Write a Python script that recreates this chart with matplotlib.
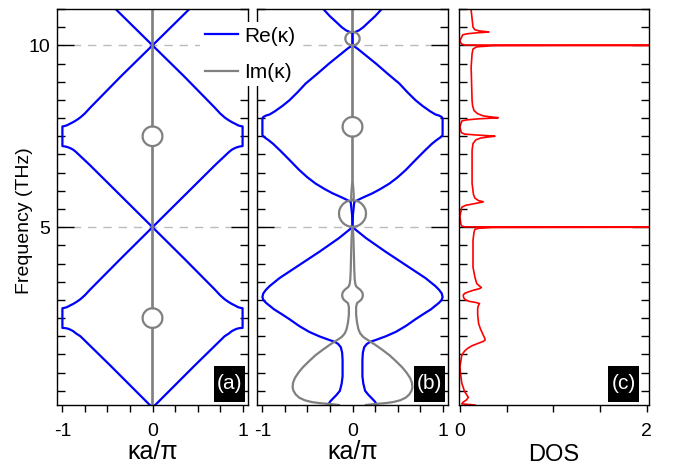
import numpy as np
import matplotlib.pyplot as plt
from matplotlib.ticker import MultipleLocator, FixedLocator
from matplotlib.lines import Line2D
from matplotlib.patches import Rectangle

plt.rcParams['font.family'] = ['Liberation Sans', 'DejaVu Sans']

# panel (a) - Re(k) for k >= 0 (other half is the mirror image)
re_a_k = [0.03, 0.47, 0.80, 0.85, 0.88, 0.91, 0.94, 0.97, 1.0,
          1.0, 0.98, 0.95, 0.92, 0.88, 0.84, 0.80, 0.75, 0.69, 0.35, 0.0,
          0.35, 0.70, 0.85, 0.88, 0.91, 0.94, 0.97, 1.0,
          1.0, 0.98, 0.95, 0.92, 0.88, 0.84, 0.80, 0.75, 0.69, 0.35, 0.0, 0.41]
re_a_f = [0.11, 1.20, 2.00, 2.08, 2.14, 2.18, 2.21, 2.225, 2.23,
          2.77, 2.78, 2.80, 2.84, 2.89, 2.95, 3.02, 3.13, 3.29, 4.14, 5.0,
          5.86, 6.72, 7.07, 7.13, 7.17, 7.20, 7.22, 7.23,
          7.77, 7.78, 7.80, 7.84, 7.89, 7.95, 8.02, 8.13, 8.29, 9.15, 10.0, 11.0]

# panel (a) - Im(k), loops in the two gaps
im_a_k = [0.0, 0.0, 0.022, 0.043, 0.062, 0.078, 0.096, 0.107, 0.11, 0.107, 0.096, 0.078,
          0.062, 0.043, 0.022, 0.0,
          0.0, 0.022, 0.043, 0.062, 0.078, 0.096, 0.107, 0.11, 0.107, 0.096, 0.078,
          0.062, 0.043, 0.022, 0.0, 0.0]
im_a_f = [0.11, 2.23, 2.235, 2.252, 2.276, 2.311, 2.365, 2.43, 2.50, 2.57, 2.635, 2.689,
          2.724, 2.748, 2.765, 2.77,
          7.23, 7.235, 7.252, 7.276, 7.311, 7.365, 7.43, 7.50, 7.57, 7.635, 7.689,
          7.724, 7.748, 7.765, 7.77, 11.0]

# panel (b) - Re(k)
re_b_k = [0.27, 0.25, 0.22, 0.18, 0.14, 0.12, 0.11, 0.11, 0.115, 0.13, 0.16, 0.20, 0.26,
          0.37, 0.48, 0.59, 0.70, 0.78, 0.87, 0.92, 0.96, 0.99, 1.0, 0.99, 0.96, 0.92, 0.88,
          0.81, 0.70, 0.59, 0.37, 0.15, 0.0,
          0.005, 0.02, 0.04, 0.07, 0.12, 0.22, 0.31, 0.41, 0.50, 0.59, 0.70, 0.80, 0.88,
          0.93, 0.97, 0.99, 1.0,
          1.0, 0.99, 0.96, 0.92, 0.86, 0.78, 0.70, 0.61, 0.52, 0.39, 0.26, 0.13, 0.05, 0.0,
          0.0, 0.03, 0.07, 0.12, 0.18, 0.25, 0.31, 0.325]
re_b_f = [0.11, 0.20, 0.28, 0.38, 0.50, 0.70, 0.90, 1.35, 1.55, 1.70, 1.79, 1.85, 1.90,
          2.00, 2.12, 2.28, 2.47, 2.60, 2.74, 2.84, 2.92, 3.00, 3.08, 3.18, 3.28, 3.38, 3.46,
          3.60, 3.78, 3.96, 4.32, 4.70, 5.0,
          5.35, 5.70, 5.72, 5.76, 5.82, 5.93, 6.05, 6.20, 6.37, 6.57, 6.85, 7.10, 7.29,
          7.39, 7.46, 7.50, 7.53,
          7.99, 8.03, 8.07, 8.10, 8.19, 8.33, 8.49, 8.71, 8.95, 9.22, 9.50, 9.76, 9.92, 10.0,
          10.35, 10.37, 10.41, 10.50, 10.64, 10.80, 10.96, 11.0]

# panel (b) - Im(k)
im_b_k = [0.15, 0.26, 0.36, 0.45, 0.53, 0.59, 0.63, 0.655, 0.665, 0.66, 0.64, 0.60, 0.55,
          0.48, 0.41, 0.33, 0.25, 0.18, 0.12, 0.085, 0.065, 0.05, 0.04, 0.04, 0.05, 0.07,
          0.095, 0.11, 0.115, 0.11, 0.09, 0.065, 0.045, 0.033, 0.025, 0.02, 0.015, 0.01,
          0.005, 0.0,
          0.03, 0.059, 0.084, 0.107, 0.13, 0.146, 0.15, 0.146, 0.13, 0.107, 0.084, 0.059,
          0.03, 0.0,
          0.015, 0.012, 0.006, 0.0, 0.0,
          0.022, 0.043, 0.062, 0.078, 0.096, 0.107, 0.11, 0.107, 0.096, 0.078, 0.062, 0.043,
          0.022, 0.0, 0.0,
          0.016, 0.031, 0.045, 0.057, 0.069, 0.077, 0.08, 0.077, 0.069, 0.057, 0.045, 0.031,
          0.016, 0.0, 0.0]
im_b_f = [0.11, 0.14, 0.16, 0.19, 0.24, 0.31, 0.40, 0.50, 0.60, 0.72, 0.85, 1.00, 1.15,
          1.32, 1.48, 1.63, 1.77, 1.88, 1.98, 2.08, 2.20, 2.38, 2.60, 2.80, 2.91, 2.95,
          3.00, 3.06, 3.13, 3.20, 3.27, 3.32, 3.36, 3.42, 3.55, 3.80, 4.30, 4.70,
          4.95, 5.01,
          5.017, 5.039, 5.072, 5.119, 5.192, 5.28, 5.375, 5.47, 5.558, 5.631, 5.678, 5.711,
          5.733, 5.74,
          5.80, 5.95, 6.15, 6.30, 7.49,
          7.495, 7.512, 7.536, 7.571, 7.625, 7.69, 7.76, 7.83, 7.895, 7.949, 7.984, 8.008,
          8.025, 8.03, 10.0,
          10.004, 10.015, 10.031, 10.055, 10.092, 10.137, 10.185, 10.233, 10.278, 10.315,
          10.339, 10.355, 10.366, 10.37, 11.0]

# panel (c) - density of states
dos_f = [0.11, 0.14, 0.18, 0.25, 0.32, 0.40, 0.48, 0.71, 1.00, 1.16, 1.48, 1.56, 1.62,
         1.68, 1.74, 1.80, 1.86, 1.90, 1.95, 2.03, 2.20, 2.35, 2.60, 2.77, 2.86, 2.90,
         2.93, 2.96, 3.00, 3.06, 3.13, 3.18, 3.22, 3.27, 3.31, 3.34, 3.38, 3.45, 3.63, 3.90,
         4.37, 4.64, 4.85, 4.94, 4.97, 4.99, 5.0, 5.01, 5.03, 5.08, 5.30, 5.55, 5.60, 5.65,
         5.69, 5.70, 5.73, 5.80, 5.90, 6.20, 7.12, 7.30, 7.40, 7.45, 7.48, 7.50, 7.515,
         7.54, 7.56, 7.60, 7.76, 7.92, 7.95, 7.98, 8.00, 8.01, 8.03, 8.06, 8.12, 8.21, 8.35,
         8.49, 9.40, 9.77, 9.90, 9.96, 9.99, 10.0, 10.01, 10.04, 10.13, 10.29, 10.32, 10.345,
         10.36, 10.37, 10.38, 10.40, 10.43, 10.50, 10.97, 11.0]
dos_v = [0.16, 0.02, 0.03, 0.07, 0.09, 0.07, 0.05, 0.02, 0.005, 0.0, 0.02, 0.04, 0.06,
         0.09, 0.13, 0.19, 0.25, 0.27, 0.265, 0.25, 0.22, 0.20, 0.19, 0.19, 0.20, 0.21,
         0.17, 0.10, 0.06, 0.04, 0.035, 0.05, 0.09, 0.15, 0.21, 0.23, 0.21, 0.18, 0.16, 0.14,
         0.14, 0.14, 0.15, 0.16, 0.20, 0.35, 2.5, 0.05, 0.02, 0.01, 0.0, 0.02, 0.06, 0.16,
         0.24, 0.25, 0.20, 0.16, 0.145, 0.13, 0.13, 0.14, 0.17, 0.22, 0.30, 0.375, 0.30,
         0.15, 0.05, 0.015, 0.0, 0.02, 0.07, 0.20, 0.36, 0.41, 0.34, 0.25, 0.19, 0.15, 0.135,
         0.13, 0.12, 0.13, 0.14, 0.18, 0.35, 2.5, 0.05, 0.015, 0.0, 0.03, 0.08, 0.18,
         0.27, 0.31, 0.27, 0.20, 0.16, 0.14, 0.12, 0.12]

W, H = 685, 465
fig = plt.figure(figsize=(W / 100, H / 100), dpi=100)
ax_a = fig.add_axes([57 / W, 60 / H, 191 / W, 396 / H])
ax_b = fig.add_axes([257 / W, 60 / H, 191 / W, 396 / H])
ax_c = fig.add_axes([459 / W, 60 / H, 190 / W, 396 / H])


def style_axis(ax):
    ax.set_ylim(0.11, 11.0)
    ax.yaxis.set_major_locator(FixedLocator([5, 10]))
    ax.yaxis.set_minor_locator(MultipleLocator(0.5))
    ax.tick_params(axis='y', which='both', direction='in', left=True, right=True,
                   width=1, labelsize=14, pad=5)
    ax.tick_params(axis='y', which='major', length=12)
    ax.tick_params(axis='y', which='minor', length=6)
    ax.tick_params(axis='x', which='both', direction='out', bottom=True, top=False,
                   length=5, width=1, labelsize=14, pad=8)
    for s in ax.spines.values():
        s.set_linewidth(1)


def panel_tag(ax, txt, right_gap):
    # black box with white letter, sizes in pixels
    bw, bh = 31, 36
    wpx = ax.get_position().width * W
    hpx = ax.get_position().height * H
    x0 = 1 - (right_gap + bw) / wpx
    y0 = 3.5 / hpx
    ax.add_patch(Rectangle((x0, y0), bw / wpx, bh / hpx, transform=ax.transAxes,
                           facecolor='black', edgecolor='none', zorder=5))
    ax.text(x0 + bw / wpx / 2, y0 + bh / hpx / 2, txt, transform=ax.transAxes,
            ha='center', va='center', color='white', fontsize=15, zorder=6)


def draw_bands(ax, re_k, re_f, im_k, im_f):
    re_k = np.array(re_k)
    im_k = np.array(im_k)
    for f0 in (5, 10):
        ax.axhline(f0, color='#bbbbbb', lw=1, dashes=(6, 5), zorder=0)
    ax.plot(re_k, re_f, color='#0000ff', lw=1.6)
    ax.plot(-re_k, re_f, color='#0000ff', lw=1.6)
    ax.plot(im_k, im_f, color='#808080', lw=1.6)
    ax.plot(-im_k, im_f, color='#808080', lw=1.6)
    ax.set_xlim(-1.06, 1.06)
    ax.xaxis.set_major_locator(FixedLocator([-1, 0, 1]))
    ax.xaxis.set_minor_locator(MultipleLocator(0.25))
    ax.set_xticklabels(['-1', '0', '1'])
    ax.set_xlabel('κa/π', fontsize=18, labelpad=0)


draw_bands(ax_a, re_a_k, re_a_f, im_a_k, im_a_f)
draw_bands(ax_b, re_b_k, re_b_f, im_b_k, im_b_f)

ax_c.plot(dos_v, dos_f, color='#ff0000', lw=1.2)
ax_c.set_xlim(-0.01, 2.025)
ax_c.xaxis.set_major_locator(FixedLocator([0, 2]))
ax_c.xaxis.set_minor_locator(MultipleLocator(0.5))
ax_c.set_xlabel('DOS', fontsize=17, labelpad=3)

for ax in (ax_a, ax_b, ax_c):
    style_axis(ax)
ax_b.tick_params(axis='y', labelleft=False)
ax_c.tick_params(axis='y', labelleft=False)

ax_a.set_ylabel('Frequency (THz)', fontsize=14)
ax_a.yaxis.set_label_coords(-0.125, 0.465)

panel_tag(ax_a, '(a)', 3)
panel_tag(ax_b, '(b)', 3)
panel_tag(ax_c, '(c)', 10)

handles = [Line2D([], [], color='#0000ff', lw=1.6),
           Line2D([], [], color='#808080', lw=1.6)]
fig.legend(handles, ['Re(κ)', 'Im(κ)'], loc='upper left',
           bbox_to_anchor=(190 / W, 1 - 12 / H), fontsize=15, frameon=True,
           facecolor='white', edgecolor='none', framealpha=1, fancybox=False,
           handlelength=1.6, handletextpad=0.3, labelspacing=0.85, borderpad=0.2)

fig.savefig('out.png', dpi=100)
